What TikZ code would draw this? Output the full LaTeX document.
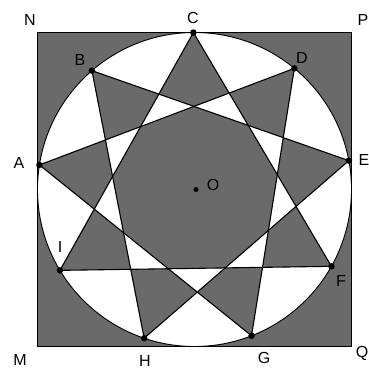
\documentclass[tikz,border=0pt]{standalone}
\usepackage{fontspec}
\setmainfont{Liberation Sans}
\usetikzlibrary{calc}
\begin{document}
\begin{tikzpicture}[x=1pt,y=1pt,
  lbl/.style={inner sep=0pt,font=\fontsize{16}{16}\selectfont},
  ptdot/.style={circle,fill=black,inner sep=0pt,minimum size=6.5pt},
  edge/.style={line width=1.1pt,black}]
\definecolor{fillgray}{RGB}{106,106,106}
\useasboundingbox (0,0) rectangle (368,371);
\coordinate (O) at (194.5,181.5);
\def\R{157}
\coordinate (NW) at (37.5,338.5);
\coordinate (SE) at (351.5,24.5);
\foreach \n/\a in {C/90.4,D/50.5,E/10.6,F/-29.3,G/-68.7,H/-108.7,I/-149,A/171,B/130.8}{
  \coordinate (\n) at ($(O)+(\a:\R)$);
}
% even-odd fill
\fill[fillgray,even odd rule] (NW) rectangle (SE)
  (O) circle (\R)
  (C) -- (F) -- (I) -- cycle
  (D) -- (G) -- (A) -- cycle
  (E) -- (H) -- (B) -- cycle;
\draw[line width=0.9pt] (NW) rectangle (SE);
\draw[line width=0.9pt] (O) circle (\R);
\draw[edge,line join=round] (C) -- (F) -- (I) -- cycle;
\draw[edge,line join=round] (D) -- (G) -- (A) -- cycle;
\draw[edge,line join=round] (E) -- (H) -- (B) -- cycle;
\foreach \n in {A,B,C,D,E,F,G,H,I}{
  \node[ptdot] (p\n) at (\n) {};
}
\node[ptdot,minimum size=5pt] (pO) at (196,181.5) {};
% labels
\node[lbl] (lN) at (30,351) {N};
\node[lbl] (lC) at (193,353) {C};
\node[lbl] (lP) at (363,351) {P};
\node[lbl] (lB) at (80,311) {B};
\node[lbl] (lD) at (302,313) {D};
\node[lbl] (lE) at (364,211) {E};
\node[lbl] (lA) at (19,208) {A};
\node[lbl] (lO) at (213,186) {O};
\node[lbl] (lI) at (60,124) {I};
\node[lbl] (lF) at (341,90) {F};
\node[lbl] (lG) at (264,13) {G};
\node[lbl] (lH) at (145,10) {H};
\node[lbl] (lM) at (20,11) {M};
\node[lbl] (lQ) at (362,18) {Q};
\end{tikzpicture}
\end{document}
